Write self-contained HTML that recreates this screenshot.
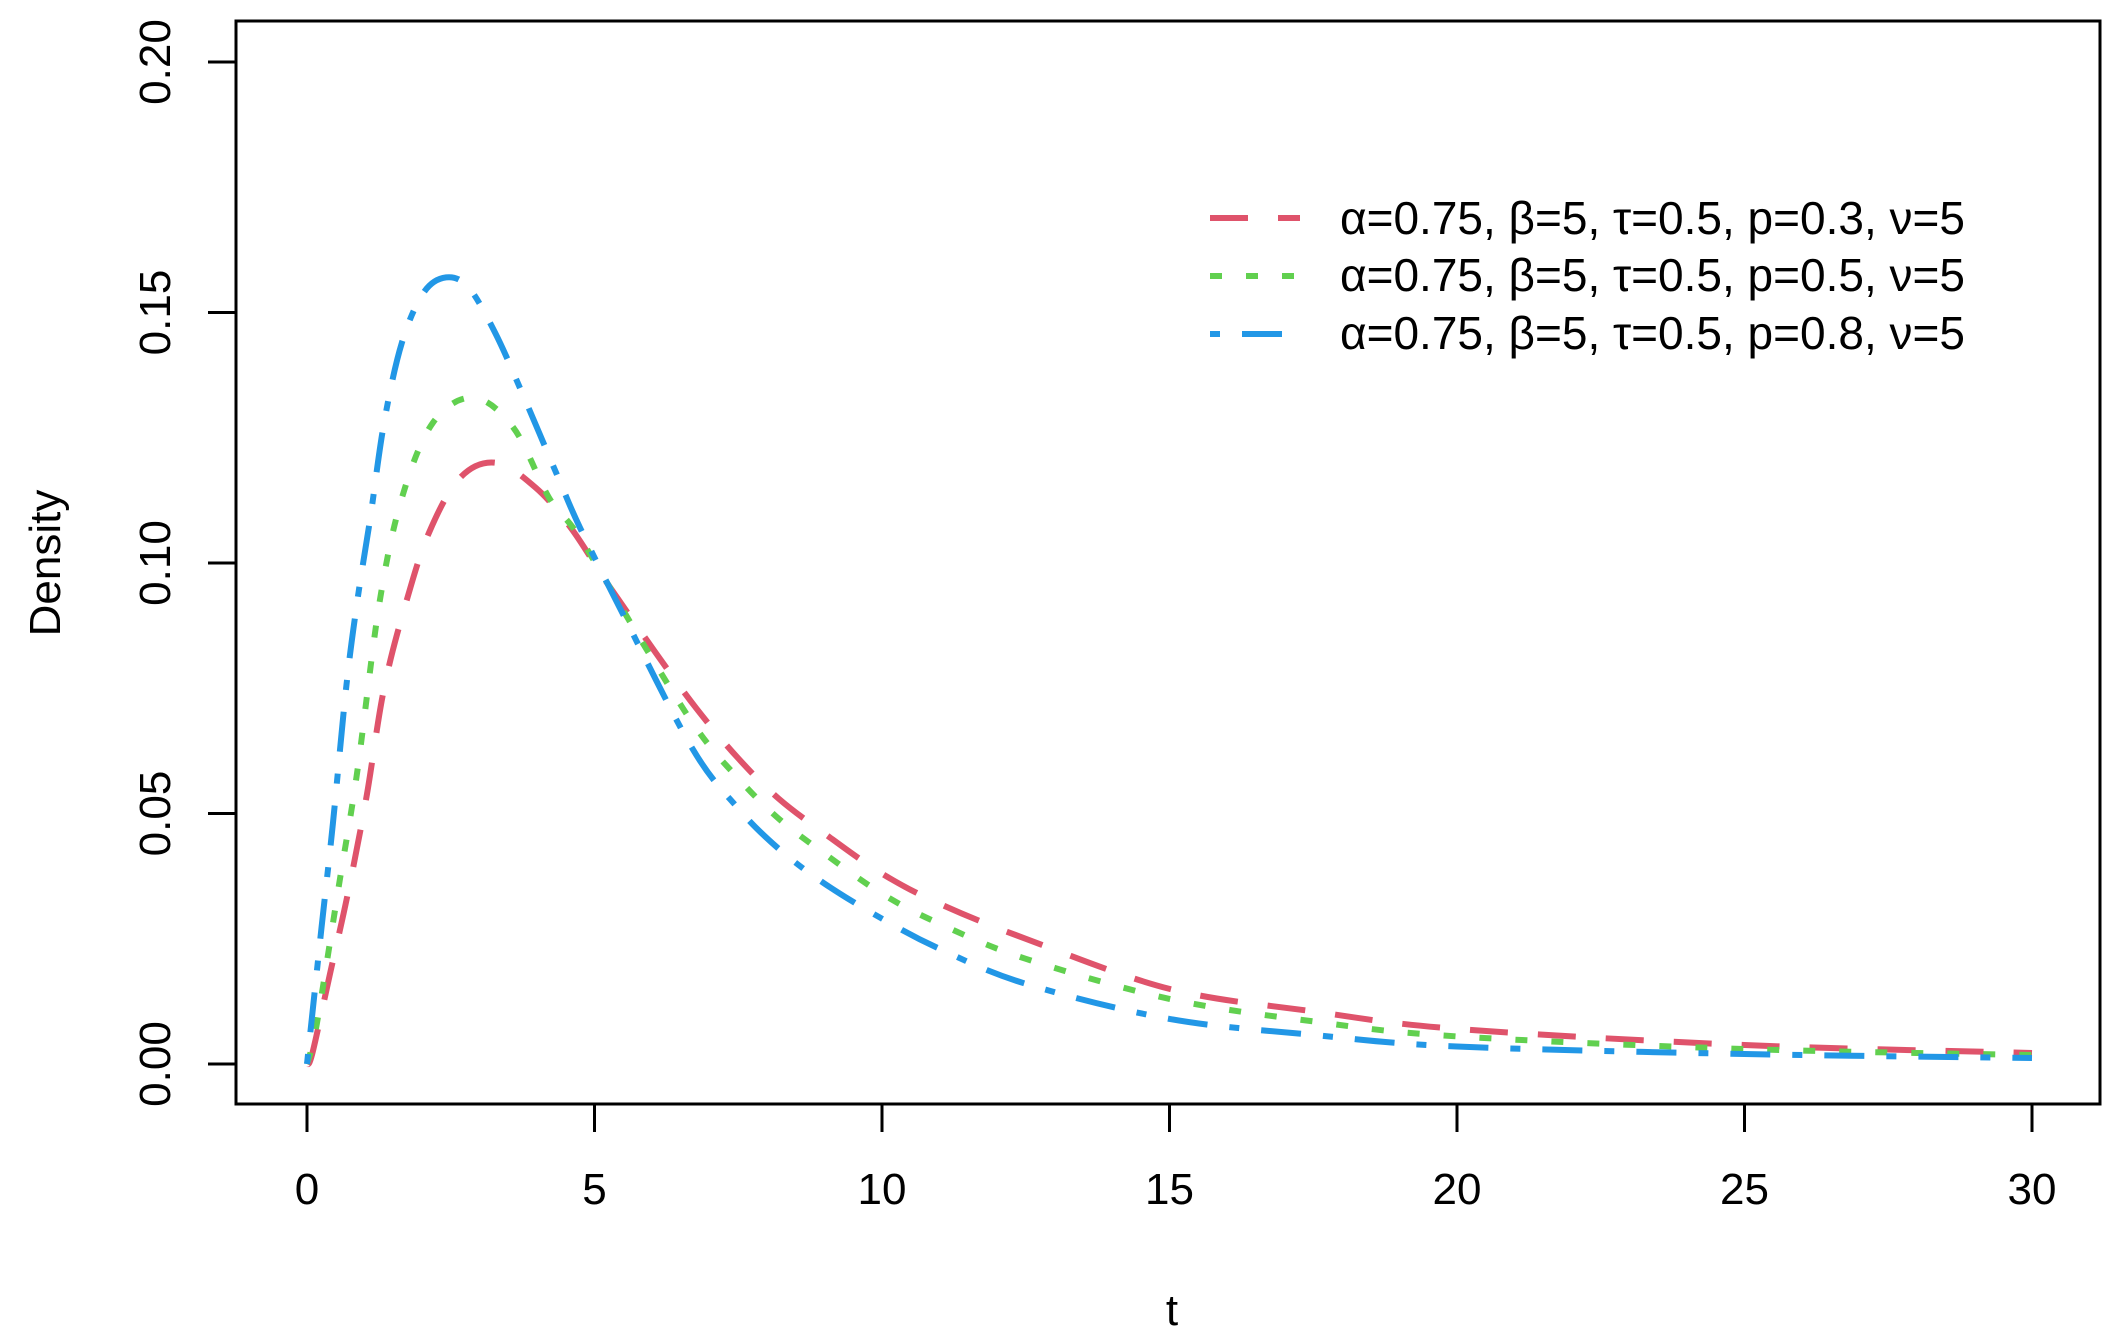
<!DOCTYPE html>
<html><head><meta charset="utf-8">
<style>
html,body{margin:0;padding:0;background:#fff;}
svg{display:block;}
text{font-family:"Liberation Sans",Arial,sans-serif;fill:#000;}
</style></head>
<body>
<svg id="s" width="2128" height="1342" viewBox="0 0 2128 1342" xmlns="http://www.w3.org/2000/svg">
<rect x="0" y="0" width="2128" height="1342" fill="#fff"/>
<g id="curves"></g>
<rect x="236" y="21" width="1864" height="1083" fill="none" stroke="#000" stroke-width="3"/>
<g stroke="#000" stroke-width="3">
<line x1="307" y1="1104" x2="307" y2="1132"/>
<line x1="594.5" y1="1104" x2="594.5" y2="1132"/>
<line x1="882" y1="1104" x2="882" y2="1132"/>
<line x1="1169.5" y1="1104" x2="1169.5" y2="1132"/>
<line x1="1457" y1="1104" x2="1457" y2="1132"/>
<line x1="1744.5" y1="1104" x2="1744.5" y2="1132"/>
<line x1="2032" y1="1104" x2="2032" y2="1132"/>
<line x1="208" y1="1064" x2="236" y2="1064"/>
<line x1="208" y1="813.5" x2="236" y2="813.5"/>
<line x1="208" y1="563" x2="236" y2="563"/>
<line x1="208" y1="312.5" x2="236" y2="312.5"/>
<line x1="208" y1="62" x2="236" y2="62"/>
</g>
<g font-size="44" text-anchor="middle">
<text x="307" y="1204">0</text>
<text x="594.5" y="1204">5</text>
<text x="882" y="1204">10</text>
<text x="1169.5" y="1204">15</text>
<text x="1457" y="1204">20</text>
<text x="1744.5" y="1204">25</text>
<text x="2032" y="1204">30</text>
<text transform="translate(170,1064) rotate(-90)">0.00</text>
<text transform="translate(170,813.5) rotate(-90)">0.05</text>
<text transform="translate(170,563) rotate(-90)">0.10</text>
<text transform="translate(170,312.5) rotate(-90)">0.15</text>
<text transform="translate(170,62) rotate(-90)">0.20</text>
<text transform="translate(60,563) rotate(-90)">Density</text>
<text x="1172" y="1325">t</text>
</g>
<g font-size="46">
<text x="1340" y="234">α=0.75, β=5, τ=0.5, p=0.3, ν=5</text>
<text x="1340" y="291">α=0.75, β=5, τ=0.5, p=0.5, ν=5</text>
<text x="1340" y="349">α=0.75, β=5, τ=0.5, p=0.8, ν=5</text>
</g>
<g stroke-width="6" fill="none">
<line x1="1210" y1="218" x2="1300" y2="218" stroke="#DF536B" stroke-dasharray="38 30"/>
<line x1="1210" y1="276" x2="1300" y2="276" stroke="#61D04F" stroke-dasharray="12 24"/>
<line x1="1210" y1="334" x2="1300" y2="334" stroke="#2297E6" stroke-dasharray="10 22 40 22"/>
</g>
</svg>
<script>
(function(){
var X=function(t){return 307+57.5*t;}, Y=function(v){return 1064-5010*v;};
var red=[[0,0],[0.09,0.002],[0.4,0.018],[0.71,0.034],[1.03,0.053],[1.34,0.075],[1.72,0.092],[2.12,0.106],[2.66,0.117],[3.29,0.120],[3.98,0.115],[4.59,0.107],[5.22,0.096],[6.07,0.082],[6.77,0.071],[7.5,0.061],[8.2,0.053],[9,0.046],[10,0.038],[11,0.032],[12.5,0.025],[15,0.015],[17.5,0.0105],[20,0.007],[25,0.0038],[30,0.0022]];
var green=[[0,0],[0.17,0.008],[0.56,0.036],[0.87,0.058],[1.26,0.092],[1.65,0.113],[2.19,0.128],[2.89,0.133],[3.59,0.127],[4.21,0.113],[4.75,0.105],[5.84,0.084],[6.77,0.067],[7.5,0.057],[8.2,0.049],[9,0.042],[10,0.034],[11,0.028],[12.5,0.021],[15,0.013],[17.5,0.0085],[20,0.0055],[25,0.003],[30,0.0018]];
var blue=[[0,0],[0.25,0.027],[0.45,0.048],[0.68,0.075],[0.87,0.092],[1.1,0.109],[1.34,0.128],[1.65,0.144],[2.03,0.154],[2.42,0.157],[2.81,0.155],[3.27,0.146],[3.74,0.134],[4.37,0.117],[4.75,0.107],[5.53,0.089],[6.7,0.063],[7.5,0.051],[8.2,0.043],[9,0.036],[10,0.029],[11,0.023],[12.5,0.016],[15,0.009],[17.5,0.0058],[20,0.0035],[25,0.002],[30,0.0012]];
function path(p){
  var pts=p.map(function(q){return [X(q[0]),Y(q[1])];});
  var d="M"+pts[0][0].toFixed(1)+" "+pts[0][1].toFixed(1);
  for(var i=0;i<pts.length-1;i++){
    var p0=pts[i>0?i-1:i],p1=pts[i],p2=pts[i+1],p3=pts[i+2<pts.length?i+2:i+1];
    var c1=[p1[0]+(p2[0]-p0[0])/6,p1[1]+(p2[1]-p0[1])/6];
    var c2=[p2[0]-(p3[0]-p1[0])/6,p2[1]-(p3[1]-p1[1])/6];
    d+=" C"+c1[0].toFixed(1)+" "+c1[1].toFixed(1)+" "+c2[0].toFixed(1)+" "+c2[1].toFixed(1)+" "+p2[0].toFixed(1)+" "+p2[1].toFixed(1);
  }
  return d;
}
var g=document.getElementById("curves");
var ns="http://www.w3.org/2000/svg";
[[red,"#DF536B","38 30"],[green,"#61D04F","12 24"],[blue,"#2297E6","10 22 40 22"]].forEach(function(s){
  var e=document.createElementNS(ns,"path");
  e.setAttribute("d",path(s[0]));e.setAttribute("stroke",s[1]);
  e.setAttribute("stroke-width","6");e.setAttribute("fill","none");
  e.setAttribute("stroke-dasharray",s[2]);
  g.appendChild(e);
});
})();
</script>
</body></html>
